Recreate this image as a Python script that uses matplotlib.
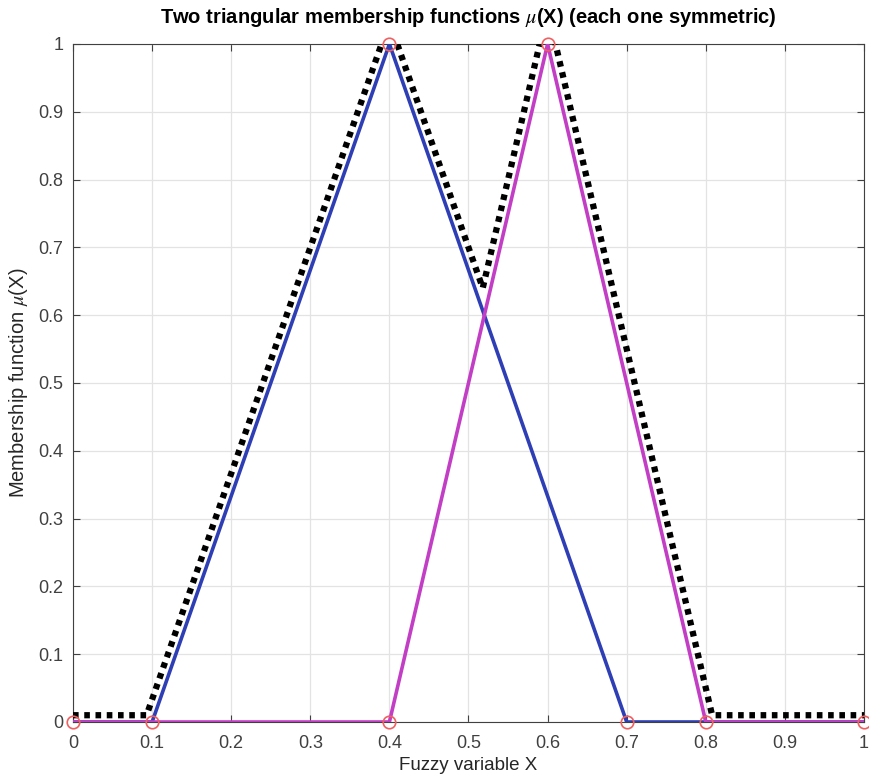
import matplotlib
matplotlib.use("Agg")
import matplotlib.pyplot as plt
import numpy as np

plt.rcParams['font.family'] = ['Liberation Sans', 'DejaVu Sans']
plt.rcParams['mathtext.fontset'] = 'stix'

# === MEMBERSHIP FUNCTIONS ===
# first triangle: a=0.1, peak=0.4, c=0.7
mu1_x = [0.0, 0.1, 0.4, 0.7, 0.8, 1.0]
mu1_y = [0.0, 0.0, 1.0, 0.0, 0.0, 0.0]
# second triangle: a=0.4, peak=0.6, c=0.8
mu2_x = [0.0, 0.4, 0.6, 0.8, 1.0]
mu2_y = [0.0, 0.0, 1.0, 0.0, 0.0]
# union (max) envelope, widened a little so it sits outside both triangles
env_x = [0.0, 0.093, 0.4, 0.518, 0.6, 0.808, 1.0]
env_y = [0.01, 0.01, 1.033, 0.64, 1.05, 0.01, 0.01]
# breakpoints marked with circles
pts_x = [0.0, 0.1, 0.4, 0.4, 0.6, 0.7, 0.8, 1.0]
pts_y = [0.0, 0.0, 0.0, 1.0, 1.0, 0.0, 0.0, 0.0]

TICKS = np.arange(0, 1.01, 0.1)
TICK_LABELS = ['0', '0.1', '0.2', '0.3', '0.4', '0.5', '0.6', '0.7', '0.8', '0.9', '1']
GREY = '#404040'

fig = plt.figure(figsize=(8.7, 7.81), dpi=100)
ax = fig.add_axes([73 / 870, 1 - 722 / 781, (864 - 73) / 870, (722 - 44) / 781])

ax.plot(env_x, env_y, color='black', lw=4.5, linestyle=(0, (0.9, 0.9)), zorder=3)
ax.plot(mu1_x, mu1_y, color='#2e3eb4', lw=2.6, zorder=4)
ax.plot(mu2_x, mu2_y, color='#c23ec4', lw=2.6, zorder=5)
ax.plot(pts_x, pts_y, 'o', mfc='none', mec='#f06060', ms=9, mew=1.2, zorder=6,
        clip_on=False)

ax.set_xlim(0, 1)
ax.set_ylim(0, 1)
ax.set_xticks(TICKS)
ax.set_yticks(TICKS)
ax.set_xticklabels(TICK_LABELS)
ax.set_yticklabels(TICK_LABELS)
ax.grid(True, color='#e3e3e3', lw=0.9)
ax.set_axisbelow(True)
ax.tick_params(direction='in', length=5, colors=GREY, labelsize=13, width=0.8,
               top=True, right=True, labeltop=False, labelright=False)
ax.tick_params(axis='x', pad=9)
ax.tick_params(axis='y', pad=7)
for s in ax.spines.values():
    s.set_color(GREY)
    s.set_linewidth(0.8)

ax.set_xlabel('Fuzzy variable X', fontsize=13.5, color='#262626', labelpad=4)
ax.set_ylabel(r'Membership function $\mu$(X)', fontsize=14.5, color='#262626', labelpad=6)
ax.set_title(r'Two triangular membership functions $\mu$(X) (each one symmetric)',
             fontsize=14.5, fontweight='bold', color='black', pad=15)

fig.savefig('out.png', dpi=100)
